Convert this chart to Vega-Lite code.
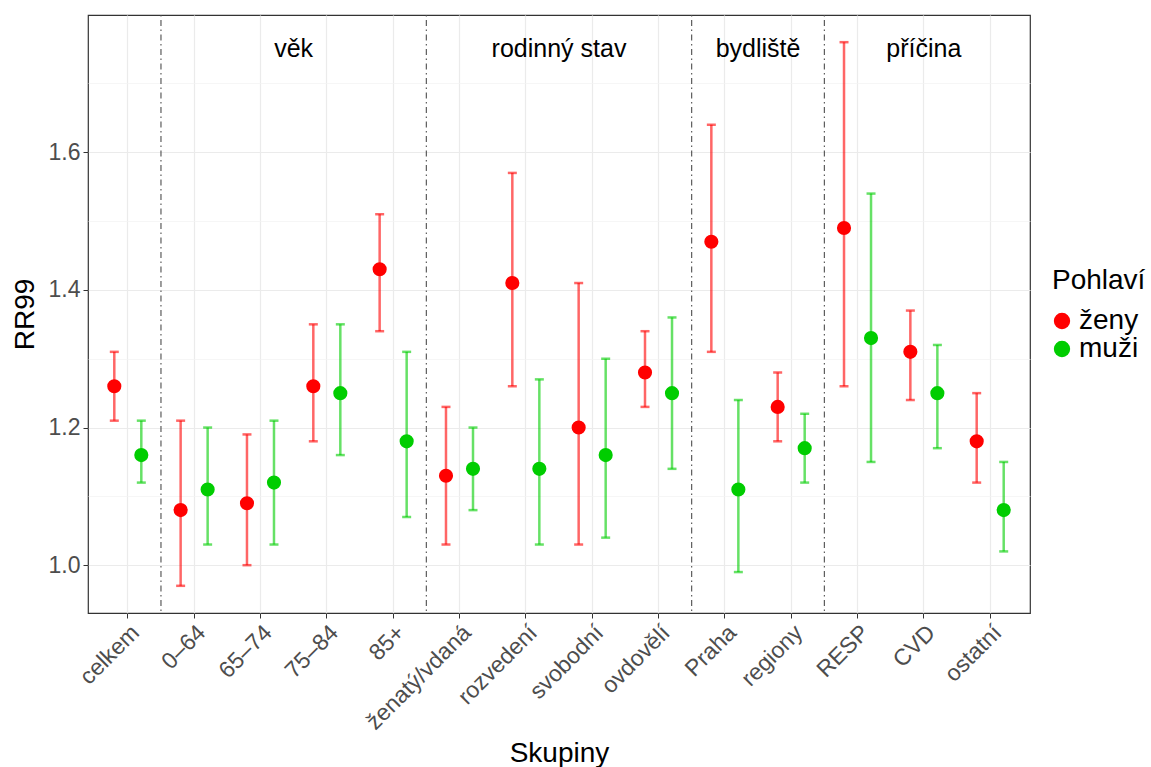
{
  "$schema": "https://vega.github.io/schema/vega-lite/v6.json",
  "width": 942,
  "height": 598,
  "autosize": {"type": "none"},
  "padding": {"left": 88, "top": 15, "right": 121, "bottom": 154},
  "background": "white",
  "config": {
    "font": "Liberation Sans",
    "view": {"stroke": "#333333", "strokeWidth": 1.2},
    "axis": {
      "labelFont": "Liberation Sans",
      "labelFontSize": 23,
      "labelColor": "#4D4D4D",
      "tickColor": "#333333",
      "tickSize": 5,
      "labelPadding": 3,
      "domain": false,
      "titleFont": "Liberation Sans",
      "titleFontSize": 28,
      "titleFontWeight": "normal",
      "titleColor": "#000000"
    },
    "legend": {
      "titleFont": "Liberation Sans",
      "titleFontSize": 28,
      "titleFontWeight": "normal",
      "titleColor": "#000000",
      "labelFont": "Liberation Sans",
      "labelFontSize": 28,
      "labelColor": "#000000",
      "symbolSize": 220,
      "symbolType": "circle"
    }
  },
  "datasets": {
    "rr": [
      {"skupina": "celkem", "pohlavi": "ženy", "rr": 1.26, "lo": 1.21, "hi": 1.31},
      {"skupina": "celkem", "pohlavi": "muži", "rr": 1.16, "lo": 1.12, "hi": 1.21},
      {"skupina": "0–64", "pohlavi": "ženy", "rr": 1.08, "lo": 0.97, "hi": 1.21},
      {"skupina": "0–64", "pohlavi": "muži", "rr": 1.11, "lo": 1.03, "hi": 1.20},
      {"skupina": "65–74", "pohlavi": "ženy", "rr": 1.09, "lo": 1.00, "hi": 1.19},
      {"skupina": "65–74", "pohlavi": "muži", "rr": 1.12, "lo": 1.03, "hi": 1.21},
      {"skupina": "75–84", "pohlavi": "ženy", "rr": 1.26, "lo": 1.18, "hi": 1.35},
      {"skupina": "75–84", "pohlavi": "muži", "rr": 1.25, "lo": 1.16, "hi": 1.35},
      {"skupina": "85+", "pohlavi": "ženy", "rr": 1.43, "lo": 1.34, "hi": 1.51},
      {"skupina": "85+", "pohlavi": "muži", "rr": 1.18, "lo": 1.07, "hi": 1.31},
      {"skupina": "ženatý/vdaná", "pohlavi": "ženy", "rr": 1.13, "lo": 1.03, "hi": 1.23},
      {"skupina": "ženatý/vdaná", "pohlavi": "muži", "rr": 1.14, "lo": 1.08, "hi": 1.20},
      {"skupina": "rozvedení", "pohlavi": "ženy", "rr": 1.41, "lo": 1.26, "hi": 1.57},
      {"skupina": "rozvedení", "pohlavi": "muži", "rr": 1.14, "lo": 1.03, "hi": 1.27},
      {"skupina": "svobodní", "pohlavi": "ženy", "rr": 1.20, "lo": 1.03, "hi": 1.41},
      {"skupina": "svobodní", "pohlavi": "muži", "rr": 1.16, "lo": 1.04, "hi": 1.30},
      {"skupina": "ovdovělí", "pohlavi": "ženy", "rr": 1.28, "lo": 1.23, "hi": 1.34},
      {"skupina": "ovdovělí", "pohlavi": "muži", "rr": 1.25, "lo": 1.14, "hi": 1.36},
      {"skupina": "Praha", "pohlavi": "ženy", "rr": 1.47, "lo": 1.31, "hi": 1.64},
      {"skupina": "Praha", "pohlavi": "muži", "rr": 1.11, "lo": 0.99, "hi": 1.24},
      {"skupina": "regiony", "pohlavi": "ženy", "rr": 1.23, "lo": 1.18, "hi": 1.28},
      {"skupina": "regiony", "pohlavi": "muži", "rr": 1.17, "lo": 1.12, "hi": 1.22},
      {"skupina": "RESP", "pohlavi": "ženy", "rr": 1.49, "lo": 1.26, "hi": 1.76},
      {"skupina": "RESP", "pohlavi": "muži", "rr": 1.33, "lo": 1.15, "hi": 1.54},
      {"skupina": "CVD", "pohlavi": "ženy", "rr": 1.31, "lo": 1.24, "hi": 1.37},
      {"skupina": "CVD", "pohlavi": "muži", "rr": 1.25, "lo": 1.17, "hi": 1.32},
      {"skupina": "ostatní", "pohlavi": "ženy", "rr": 1.18, "lo": 1.12, "hi": 1.25},
      {"skupina": "ostatní", "pohlavi": "muži", "rr": 1.08, "lo": 1.02, "hi": 1.15}
    ],
    "hranice": [
      {"skupina": "0–64"},
      {"skupina": "ženatý/vdaná"},
      {"skupina": "Praha"},
      {"skupina": "RESP"}
    ],
    "popisky_hrana": [
      {"skupina": "75–84", "popisek": "věk"},
      {"skupina": "svobodní", "popisek": "rodinný stav"},
      {"skupina": "regiony", "popisek": "bydliště"}
    ],
    "popisky_stred": [
      {"skupina": "CVD", "popisek": "příčina"}
    ]
  },
  "layer": [
    {
      "data": {"name": "rr"},
      "mark": {"type": "rule", "strokeWidth": 2.5, "opacity": 0.6},
      "encoding": {
        "x": {
          "field": "skupina",
          "type": "nominal",
          "scale": {
            "type": "band",
            "domain": ["celkem", "0–64", "65–74", "75–84", "85+", "ženatý/vdaná", "rozvedení", "svobodní", "ovdovělí", "Praha", "regiony", "RESP", "CVD", "ostatní"],
            "paddingInner": 0,
            "paddingOuter": 0.1
          },
          "axis": {
            "title": "Skupiny",
            "titleY": 148,
            "titleBaseline": "alphabetic",
            "labelAngle": -45,
            "labelAlign": "right",
            "labelBaseline": "top",
            "bandPosition": 0.5,
            "grid": true,
            "gridColor": "#EBEBEB",
            "gridWidth": 1.2
          }
        },
        "xOffset": {
          "field": "pohlavi",
          "type": "nominal",
          "scale": {"type": "band", "domain": ["ženy", "muži"], "paddingInner": 0, "paddingOuter": 0.228}
        },
        "y": {
          "field": "lo",
          "type": "quantitative",
          "scale": {"domain": [0.9305, 1.7995], "nice": false, "zero": false},
          "axis": {
            "title": "RR99",
            "titleX": -55,
            "titleBaseline": "alphabetic",
            "values": [1.0, 1.1, 1.2, 1.3, 1.4, 1.5, 1.6, 1.7],
            "labelExpr": "round(datum.value * 10) % 2 == 0 ? format(datum.value, '.1f') : ''",
            "grid": true,
            "gridColor": {"condition": {"test": "round(datum.value * 10) % 2 == 1", "value": "#F2F2F2"}, "value": "#EBEBEB"},
            "gridWidth": {"condition": {"test": "round(datum.value * 10) % 2 == 1", "value": 0.7}, "value": 1.2},
            "tickOpacity": {"condition": {"test": "round(datum.value * 10) % 2 == 1", "value": 0}, "value": 1}
          }
        },
        "y2": {"field": "hi"},
        "color": {
          "field": "pohlavi",
          "type": "nominal",
          "scale": {"domain": ["ženy", "muži"], "range": ["#FF0000", "#00CD00"]}
        }
      }
    },
    {
      "data": {"name": "rr"},
      "mark": {"type": "tick", "size": 9, "thickness": 2.5, "opacity": 0.6},
      "encoding": {
        "x": {"field": "skupina", "type": "nominal"},
        "xOffset": {"field": "pohlavi", "type": "nominal"},
        "y": {"field": "lo", "type": "quantitative"},
        "color": {"field": "pohlavi", "type": "nominal"}
      }
    },
    {
      "data": {"name": "rr"},
      "mark": {"type": "tick", "size": 9, "thickness": 2.5, "opacity": 0.6},
      "encoding": {
        "x": {"field": "skupina", "type": "nominal"},
        "xOffset": {"field": "pohlavi", "type": "nominal"},
        "y": {"field": "hi", "type": "quantitative"},
        "color": {"field": "pohlavi", "type": "nominal"}
      }
    },
    {
      "data": {"name": "hranice"},
      "mark": {"type": "rule", "color": "#4D4D4D", "strokeWidth": 1.1, "strokeDash": [1.5, 3.5, 6, 3.5]},
      "encoding": {
        "x": {"field": "skupina", "type": "nominal", "bandPosition": 0}
      }
    },
    {
      "data": {"name": "popisky_hrana"},
      "mark": {"type": "text", "fontSize": 25, "color": "#000000", "baseline": "middle", "align": "center"},
      "encoding": {
        "x": {"field": "skupina", "type": "nominal", "bandPosition": 0},
        "y": {"datum": 1.75, "type": "quantitative"},
        "text": {"field": "popisek"}
      }
    },
    {
      "data": {"name": "popisky_stred"},
      "mark": {"type": "text", "fontSize": 25, "color": "#000000", "baseline": "middle", "align": "center"},
      "encoding": {
        "x": {"field": "skupina", "type": "nominal", "bandPosition": 0.5},
        "y": {"datum": 1.75, "type": "quantitative"},
        "text": {"field": "popisek"}
      }
    },
    {
      "data": {"name": "rr"},
      "mark": {"type": "point", "filled": true, "size": 200, "opacity": 1},
      "encoding": {
        "x": {"field": "skupina", "type": "nominal"},
        "xOffset": {"field": "pohlavi", "type": "nominal"},
        "y": {"field": "rr", "type": "quantitative"},
        "color": {
          "field": "pohlavi",
          "type": "nominal",
          "legend": {
            "title": "Pohlaví",
            "orient": "none",
            "legendX": 964,
            "legendY": 252,
            "titlePadding": 12,
            "symbolOffset": -4,
            "labelOffset": 3,
            "rowPadding": 0,
            "symbolOpacity": 1,
            "encode": {
              "symbols": {
                "update": {
                  "fill": {"scale": "color", "field": "value"},
                  "stroke": {"value": "transparent"},
                  "opacity": {"value": 1},
                  "shape": {"value": "circle"}
                }
              }
            }
          }
        }
      }
    }
  ]
}
